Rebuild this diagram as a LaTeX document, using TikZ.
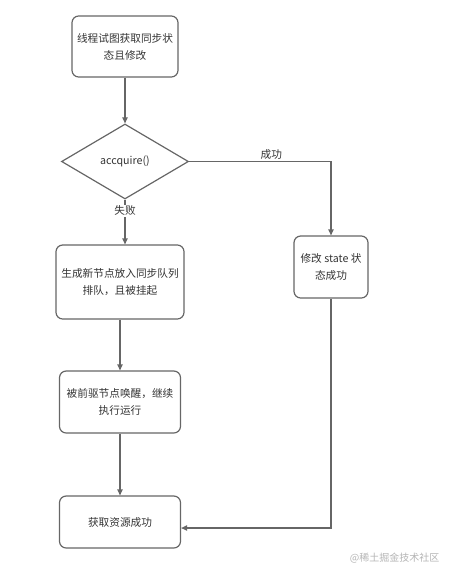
\documentclass[tikz,border=0pt]{standalone}
\usepackage{fontspec}
\setmainfont{Noto Sans CJK SC}
\usepackage{xcolor}
\usetikzlibrary{shapes.geometric, arrows.meta, positioning, calc}
\definecolor{linegray}{HTML}{666666}
\definecolor{textgray}{HTML}{333333}
\definecolor{markgray}{HTML}{B4B4B4}
\tikzset{
    procbox/.style={rectangle, draw=linegray, line width=0.9pt, rounded corners=5pt, align=center, inner sep=0pt, text=textgray, font=\fontsize{8}{12.75}\selectfont},
    decision/.style={diamond, draw=linegray, line width=0.9pt, aspect=1.7, inner sep=0pt, text=textgray, font=\fontsize{8}{10}\selectfont},
    flow/.style={draw=linegray, line width=0.9pt, -{Triangle[length=4.5pt, width=4pt]}},
    edgelabel/.style={text=textgray, font=\fontsize{8}{10}\selectfont, inner sep=1pt},
}
\begin{document}
\begin{tikzpicture}[x=0.75pt, y=-0.75pt]
\useasboundingbox (0,0) rectangle (460,578);

% Process boxes
\node[procbox, minimum width=79.5pt, minimum height=45.75pt] (try) at (125, 46.5) {线程试图获取同步状\\态且修改};
\node[decision, minimum width=95.25pt, minimum height=56.25pt] (acq) at (125, 161.5) {accquire()};
\node[procbox, minimum width=96pt, minimum height=55.5pt] (enq) at (120, 282) {生成新节点放入同步队列\\排队，且被挂起};
\node[procbox, minimum width=55.5pt, minimum height=46.5pt] (state) at (331, 267) {修改 state 状\\态成功};
\node[procbox, minimum width=90.75pt, minimum height=46.5pt] (wake) at (120, 402) {被前驱节点唤醒，继续\\执行运行};
\node[procbox, minimum width=90.75pt, minimum height=39pt] (done) at (120, 522) {获取资源成功};

% Watermark
\node[text=markgray, font=\fontsize{7.5}{9}\selectfont, anchor=east] (mark) at (444, 558) {@稀土掘金技术社区};

% Connectors
\draw[flow] (try) -- (acq);
\draw[flow] (acq.south) -- node[edgelabel, fill=white, pos=0.25] {失败} (acq.south |- enq.north);
\draw[flow] (acq.east) -| node[edgelabel, above, pos=0.29] {成功} (state.north);
\draw[flow] (enq) -- (wake);
\draw[flow] (wake) -- (done);
\draw[flow] (state.south) |- ([yshift=-4.5pt]done.east);

\end{tikzpicture}
\end{document}
